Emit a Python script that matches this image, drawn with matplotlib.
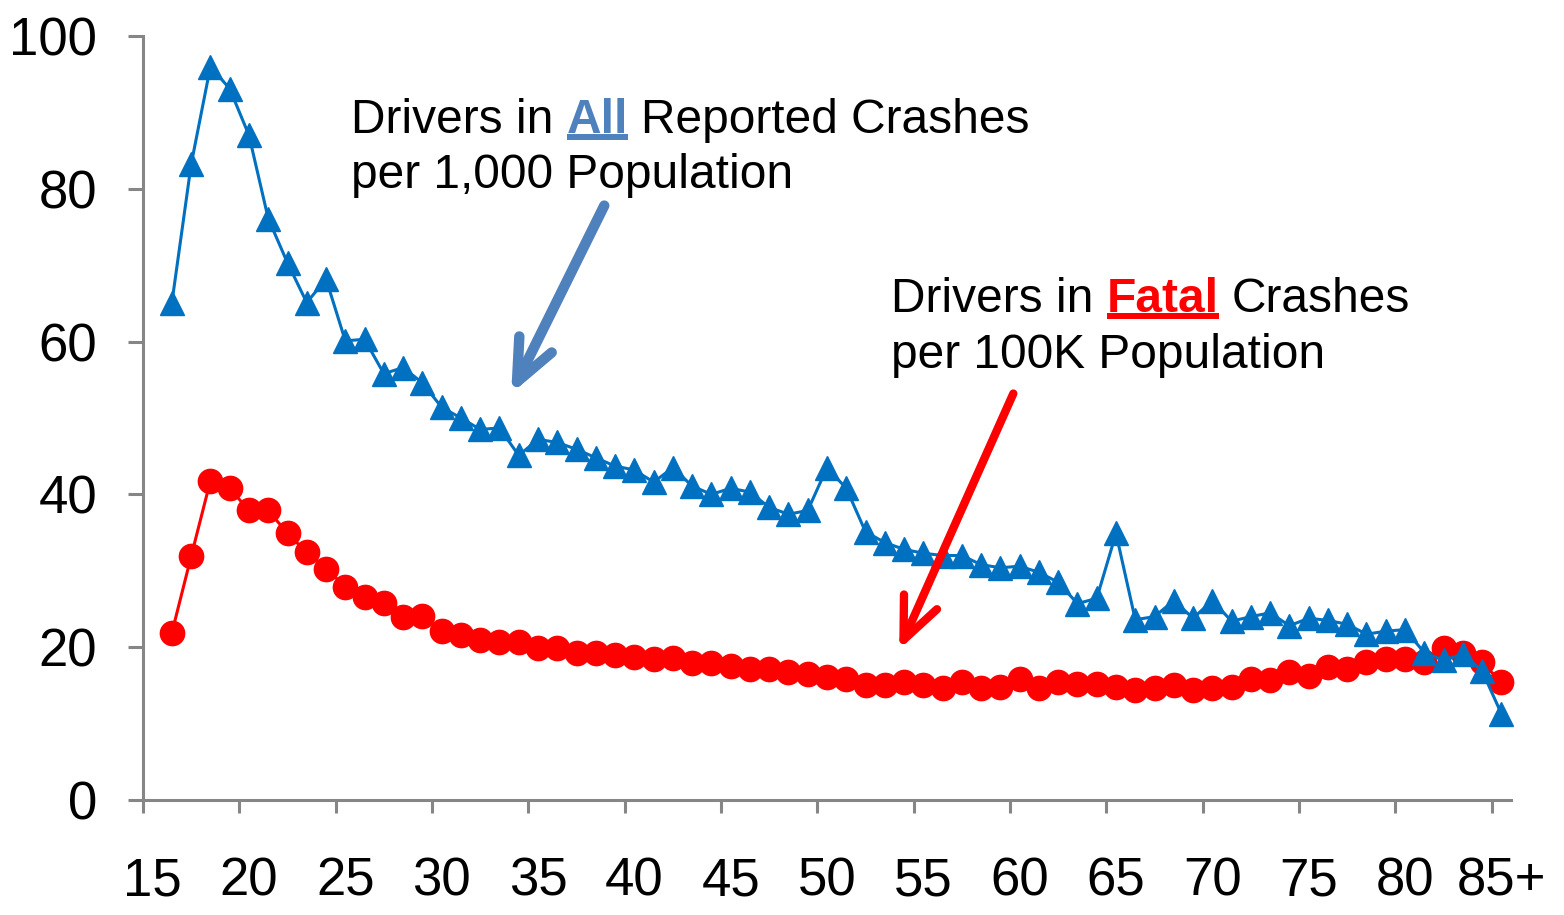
import matplotlib
matplotlib.use("Agg")
import matplotlib.pyplot as plt
from matplotlib.patches import FancyArrowPatch
from matplotlib.lines import Line2D

# ages 16..85 (85 = "85+"), age 15 is an empty category on the axis
ages = list(range(16, 86))

all_crashes = [65.1, 83.2, 96.0, 93.1, 87.0, 76.1, 70.3, 65.1, 68.2, 60.1,
               60.3, 55.8, 56.6, 54.6, 51.4, 50.0, 48.5, 48.7, 45.1, 47.2,
               46.8, 45.9, 44.8, 43.7, 43.2, 41.6, 43.5, 41.1, 40.0, 40.8,
               40.3, 38.3, 37.4, 37.9, 43.5, 40.8, 35.1, 33.7, 32.8, 32.3,
               32.0, 32.0, 30.8, 30.4, 30.6, 29.8, 28.5, 25.7, 26.4, 34.9,
               23.6, 24.0, 26.1, 23.8, 26.1, 23.4, 24.0, 24.5, 22.8, 23.8,
               23.5, 23.0, 21.7, 22.1, 22.3, 19.3, 18.3, 19.1, 16.9, 11.3]

fatal_crashes = [21.9, 31.9, 41.8, 40.8, 37.9, 37.9, 34.9, 32.4, 30.3, 27.9,
                 26.6, 25.8, 23.9, 24.1, 22.1, 21.6, 20.9, 20.7, 20.7, 19.9,
                 19.9, 19.2, 19.2, 19.0, 18.7, 18.5, 18.6, 17.9, 17.9, 17.6,
                 17.2, 17.2, 16.8, 16.5, 16.1, 15.9, 15.0, 15.0, 15.4, 15.0,
                 14.6, 15.4, 14.6, 14.8, 15.9, 14.7, 15.4, 15.2, 15.2, 14.8,
                 14.4, 14.6, 15.0, 14.4, 14.6, 14.8, 15.9, 15.7, 16.7, 16.2,
                 17.4, 17.2, 18.0, 18.5, 18.5, 18.1, 19.9, 19.2, 18.0, 15.4]

tick_ages = list(range(15, 86, 5))
tick_labels = [str(a) for a in tick_ages[:-1]] + ["85+"]

BLUE = "#0070C0"
RED = "#FF0000"
ARROW_BLUE = "#4F81BD"
AXIS_GRAY = "#868686"

plt.rcParams["font.family"] = ["Liberation Sans", "DejaVu Sans"]

W, H = 1564, 915
fig = plt.figure(figsize=(W / 100, H / 100), dpi=100)
ax = fig.add_axes([143 / W, 1 - 800 / H, (1511 - 143) / W, (800 - 36) / H])

# red series under the blue one, as in the original
ax.plot(ages, fatal_crashes, color=RED, lw=2.2, marker="o", ms=17.5,
        mfc=RED, mec=RED, mew=1, zorder=3, clip_on=False)
ax.plot(ages, all_crashes, color=BLUE, lw=2.2, marker="^", ms=17,
        mfc=BLUE, mec=BLUE, mew=1, zorder=4, clip_on=False)

ax.set_xlim(14.5, 85.5)
ax.set_ylim(0, 100)

for s in ["top", "right"]:
    ax.spines[s].set_visible(False)
for s in ["left", "bottom"]:
    ax.spines[s].set_color(AXIS_GRAY)
    ax.spines[s].set_linewidth(2.2)

ax.set_yticks(range(0, 101, 20))
ax.tick_params(axis="y", length=11, width=2.2, color=AXIS_GRAY,
               labelsize=38, pad=22)

# labels at category centres, tick marks at category boundaries
ax.set_xticks(tick_ages)
ax.set_xticklabels(tick_labels)
ax.set_xticks([a - 0.5 for a in tick_ages], minor=True)
ax.tick_params(axis="x", which="major", length=0, labelsize=38, pad=41)
ax.tick_params(axis="x", which="minor", length=9, width=2.2, color=AXIS_GRAY)

# arrows pointing at the two series
for start, end, col, lw in [((38.44, 77.8), (33.61, 53.2), ARROW_BLUE, 7.5),
                            ((59.67, 53.2), (53.75, 19.7), RED, 6)]:
    arr = FancyArrowPatch(start, end, arrowstyle="->,head_length=30,head_width=13",
                          mutation_scale=1, color=col, lw=lw, shrinkA=0, shrinkB=0,
                          capstyle="round", joinstyle="round", zorder=6)
    ax.add_patch(arr)

renderer = fig.canvas.get_renderer()
FS = 34.5
space = 0.278 * FS * 100 / 72  # width of a space in px


def place(x, y, pieces):
    # x, y in pixels from top-left, y is the baseline
    cur = x
    for txt, col, bold, ul in pieces:
        if txt == " ":
            cur += space
            continue
        t = fig.text(cur / W, 1 - y / H, txt, fontsize=FS, color=col,
                     fontweight="bold" if bold else "normal", va="baseline")
        bb = t.get_window_extent(renderer)
        if ul:
            fig.add_artist(Line2D([bb.x0 / W, bb.x1 / W],
                                  [1 - (y + 4) / H, 1 - (y + 4) / H],
                                  color=col, lw=4.3, solid_capstyle="butt"))
        cur += bb.width


place(351, 133, [("Drivers in", "black", False, False), (" ", None, None, None),
                 ("All", ARROW_BLUE, True, True), (" ", None, None, None),
                 ("Reported Crashes", "black", False, False)])
place(351, 188, [("per 1,000 Population", "black", False, False)])
place(891, 312, [("Drivers in", "black", False, False), (" ", None, None, None),
                 ("Fatal", RED, True, True), (" ", None, None, None),
                 ("Crashes", "black", False, False)])
place(891, 368, [("per 100K Population", "black", False, False)])

fig.savefig("out.png", dpi=100)
